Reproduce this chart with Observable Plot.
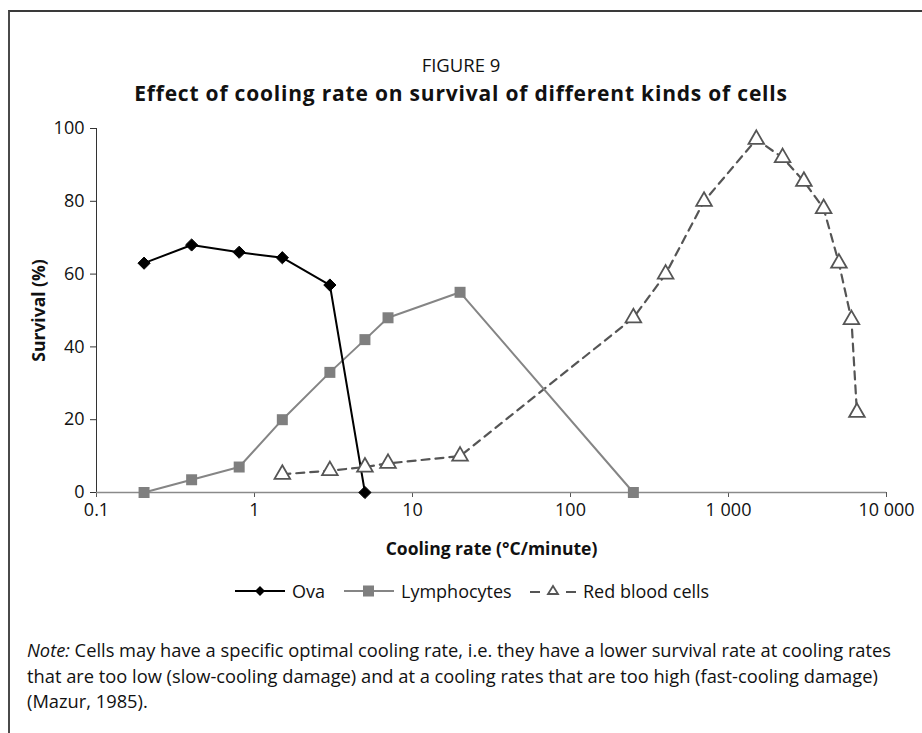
<!DOCTYPE html>
<html>
<head>
<meta charset="utf-8">
<script src="https://cdn.jsdelivr.net/npm/d3@7"></script>
<script src="https://cdn.jsdelivr.net/npm/@observablehq/plot@0.6"></script>
<style>
  html, body { margin: 0; padding: 0; background: #fff; }
  body { font-family: "Open Sans", "Noto Sans", sans-serif; color: #111; }
  #wrap { position: relative; width: 922px; height: 733px; overflow: hidden; }
  #frame { position: absolute; left: 8px; top: 10px; right: -10px; bottom: -10px;
           border-top: 2px solid #3a3a3a; border-left: 2px solid #4a4a4a; }
  #fig { position: absolute; left: 0; width: 922px; top: 56px; text-align: center; font-size: 18.5px; line-height: 18px; }
  #title { position: absolute; left: 0; width: 922px; top: 83px; text-align: center; font-size: 21px; line-height: 21px; font-weight: 700; letter-spacing: 0.8px; }
  #chart { position: absolute; left: 0; top: 100px; }
  #chart g[aria-label="x-axis label"] text, #chart g[aria-label="y-axis label"] text { font-weight: 700; font-size: 17.5px; }
  #legend { position: absolute; left: 0; top: 579px; width: 922px; height: 24px; font-size: 18px; }
  .item { position: absolute; top: 0; display: flex; align-items: center; height: 24px; white-space: nowrap; }
  .item svg { margin-right: 7px; }
  #note { position: absolute; left: 27px; top: 637px; font-size: 18.3px; line-height: 25.5px; white-space: nowrap; }
</style>
</head>
<body>
<div id="wrap">
  <div id="frame"></div>
  <div id="fig">FIGURE 9</div>
  <div id="title">Effect of cooling rate on survival of different kinds of cells</div>
  <div id="chart"></div>
  <div id="legend"></div>
  <div id="note"><i>Note:</i> Cells may have a specific optimal cooling rate, i.e. they have a lower survival rate at cooling rates<br>that are too low (slow-cooling damage) and at a cooling rates that are too high (fast-cooling damage)<br>(Mazur, 1985).</div>
</div>
<script>
// ---- data ----
const ovaRate = [0.2, 0.4, 0.8, 1.5, 3, 5];
const ovaSurvival = [63, 68, 66, 64.5, 57, 0];

const lymphRate = [0.2, 0.4, 0.8, 1.5, 3, 5, 7, 20, 250];
const lymphSurvival = [0, 3.5, 7, 20, 33, 42, 48, 55, 0];

const rbcRate = [1.5, 3, 5, 7, 20, 250, 400, 700, 1500, 2200, 3000, 4000, 5000, 6000, 6500];
const rbcSurvival = [5, 6, 7, 8, 10, 48, 60, 80, 97, 92, 85.5, 78, 63, 47.5, 22];

const xTicks = [0.1, 1, 10, 100, 1000, 10000];
const xTickLabels = ["0.1", "1", "10", "100", "1 000", "10 000"];
const yTicks = [0, 20, 40, 60, 80, 100];

const seriesNames = ["Ova", "Lymphocytes", "Red blood cells"];

// ---- build ----
const ova = ovaRate.map((r, i) => ({rate: r, survival: ovaSurvival[i]}));
const lymph = lymphRate.map((r, i) => ({rate: r, survival: lymphSurvival[i]}));
const rbc = rbcRate.map((r, i) => ({rate: r, survival: rbcSurvival[i]}));

const plot = Plot.plot({
  width: 922,
  height: 480,
  marginLeft: 96,
  marginRight: 36,
  marginTop: 28,
  marginBottom: 88,
  style: {fontFamily: '"Open Sans", "Noto Sans", sans-serif', fontSize: "18px", color: "#111", background: "transparent", overflow: "visible"},
  x: {type: "log", domain: [0.1, 10000]},
  y: {domain: [0, 100]},
  marks: [
    Plot.axisY({ticks: yTicks, tickSize: 6, tickPadding: 6, stroke: "#333",
      label: "Survival (%)", labelAnchor: "center", labelArrow: "none", labelOffset: 64}),
    Plot.axisX({ticks: xTicks, tickFormat: (d) => xTickLabels[xTicks.indexOf(d)], tickSize: 5, tickPadding: 6, stroke: "#555",
      label: "Cooling rate (°C/minute)", labelAnchor: "center", labelArrow: "none", labelOffset: 62}),
    Plot.ruleX([0.1], {stroke: "#333", strokeWidth: 1}),
    Plot.ruleY([0], {stroke: "#8a8a8a", strokeWidth: 1.6}),
    Plot.line(rbc, {x: "rate", y: "survival", stroke: "#555", strokeWidth: 2.2, strokeDasharray: "8,6"}),
    Plot.line(lymph, {x: "rate", y: "survival", stroke: "#858585", strokeWidth: 2}),
    Plot.line(ova, {x: "rate", y: "survival", stroke: "#000", strokeWidth: 2}),
    Plot.dot(lymph, {x: "rate", y: "survival", symbol: "square", r: 6.2, fill: "#7f7f7f", stroke: "none"}),
    Plot.dot(ova, {x: "rate", y: "survival", symbol: "diamond2", r: 5.5, fill: "#000", stroke: "#000", strokeWidth: 1}),
    Plot.dot(rbc, {x: "rate", y: "survival", symbol: "triangle", r: 5.8, fill: "#fff", stroke: "#555", strokeWidth: 1.8})
  ]
});
document.getElementById("chart").appendChild(plot);

// ---- legend ----
const legend = document.getElementById("legend");
const legendSpecs = [
  {left: 235, svg: '<svg width="50" height="14"><line x1="0" y1="7" x2="50" y2="7" stroke="#000" stroke-width="2"/><path d="M25,2 L30,7 L25,12 L20,7 Z" fill="#000"/></svg>'},
  {left: 344, svg: '<svg width="50" height="14"><line x1="0" y1="7" x2="50" y2="7" stroke="#858585" stroke-width="2.2"/><rect x="19" y="1.5" width="11" height="11" fill="#7f7f7f"/></svg>'},
  {left: 530, svg: '<svg width="46" height="16"><line x1="0" y1="9" x2="46" y2="9" stroke="#555" stroke-width="2.2" stroke-dasharray="10,26"/><path d="M23,3 L28,11 L18,11 Z" fill="#fff" stroke="#555" stroke-width="1.8"/></svg>'}
];
seriesNames.forEach((name, i) => {
  const d = document.createElement("div");
  d.className = "item";
  d.style.left = legendSpecs[i].left + "px";
  d.innerHTML = legendSpecs[i].svg + "<span>" + name + "</span>";
  legend.appendChild(d);
});
</script>
</body>
</html>
